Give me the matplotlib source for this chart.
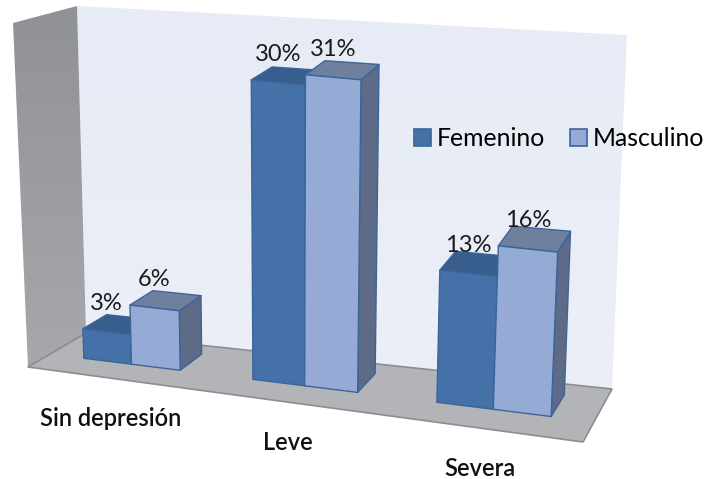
import numpy as np
import matplotlib
matplotlib.use('Agg')
import matplotlib.pyplot as plt
from matplotlib.colors import LinearSegmentedColormap
from matplotlib.patches import Polygon, Patch

categories = ['Sin depresión', 'Leve', 'Severa']
series_names = ['Femenino', 'Masculino']
femenino = [3, 30, 13]
masculino = [6, 31, 16]

FACE = {'Femenino': ('#4471A8', '#375E8C', '#34557E'),
        'Masculino': ('#95AAD4', '#6F809F', '#5D6B86')}
EDGE = '#3B659A'

# box of the 3-D chart in figure pixels: front-left, front-right, back-left, back-right
Z_MAX = 34.5
U_MIN, U_MAX = -0.5, 2.5
FLOOR = np.array([[28, 367], [583, 442], [86, 333], [612, 389]], dtype=float)
CEIL = np.array([[13, 23], [600, 85], [77, 6], [627, 35]], dtype=float)
WARP = 0.88
BAR_W = 0.29
D_FRONT, D_BACK = 0.38, 0.80


def project(u, d, z):
    t = (u - U_MIN) / (U_MAX - U_MIN)
    s = WARP * t / (1 + (WARP - 1) * t)

    def mix(c):
        front = c[0] + s * (c[1] - c[0])
        back = c[2] + s * (c[3] - c[2])
        return front + d * (back - front)

    h = z / Z_MAX
    return mix(FLOOR) * (1 - h) + mix(CEIL) * h


def face(ax, pts, fc, ec='none', lw=0.0, z=1):
    poly = Polygon([project(*p) for p in pts], closed=True, fc=fc, ec=ec, lw=lw, zorder=z,
                   joinstyle='round')
    ax.add_patch(poly)
    return poly


def gradient_face(ax, pts, c_top, c_bottom, z=1):
    poly = face(ax, pts, 'none', z=z)
    xy = poly.get_xy()
    x0, x1 = xy[:, 0].min(), xy[:, 0].max()
    y0, y1 = xy[:, 1].min(), xy[:, 1].max()
    cmap = LinearSegmentedColormap.from_list('g', [c_top, c_bottom])
    im = ax.imshow(np.linspace(0, 1, 256).reshape(-1, 1), cmap=cmap, aspect='auto',
                   extent=(x0, x1, y1, y0), zorder=z)
    im.set_clip_path(poly)


fig = plt.figure(figsize=(7.07, 4.79), dpi=100)
ax = fig.add_axes([0, 0, 1, 1])
ax.set_xlim(0, 707)
ax.set_ylim(479, 0)
ax.axis('off')

# walls and floor
gradient_face(ax, [(U_MIN, 1, 0), (U_MAX, 1, 0), (U_MAX, 1, Z_MAX), (U_MIN, 1, Z_MAX)],
              '#E7EBF5', '#ECEFF7')
gradient_face(ax, [(U_MIN, 0, 0), (U_MIN, 1, 0), (U_MIN, 1, Z_MAX), (U_MIN, 0, Z_MAX)],
              '#909295', '#A6A8AB')
face(ax, [(U_MIN, 0, 0), (U_MAX, 0, 0), (U_MAX, 1, 0), (U_MIN, 1, 0)], '#B3B4B7',
     ec='#8C8D90', lw=1.2, z=2)

# bars
for i, cat in enumerate(categories):
    for j, (name, vals) in enumerate(zip(series_names, [femenino, masculino])):
        v = vals[i]
        u0 = i - BAR_W + j * BAR_W
        u1 = u0 + BAR_W
        front, top, side = FACE[name]
        zo = 3 + i * 2 + j
        face(ax, [(u1, D_FRONT, 0), (u1, D_BACK, 0), (u1, D_BACK, v), (u1, D_FRONT, v)],
             side, ec=EDGE, lw=1.0, z=zo)
        face(ax, [(u0, D_FRONT, v), (u1, D_FRONT, v), (u1, D_BACK, v), (u0, D_BACK, v)],
             top, ec=EDGE, lw=1.0, z=zo)
        face(ax, [(u0, D_FRONT, 0), (u1, D_FRONT, 0), (u1, D_FRONT, v), (u0, D_FRONT, v)],
             front, ec=EDGE, lw=1.0, z=zo)
        lx, ly = project((u0 + u1) / 2, D_FRONT, v)
        ax.text(lx, ly - 28, f'{v}%', ha='center', va='center', fontsize=17,
                family='Lato', color='#1a1a1a', zorder=20)
    cx, cy = project(i, 0, 0)
    ax.text(cx, cy + 40, cat, ha='center', va='center', fontsize=17, family='Lato',
            fontweight='semibold', color='#111111', zorder=20)

handles = [Patch(fc=FACE[n][0], ec=EDGE, lw=1.2) for n in series_names]
ax.legend(handles, series_names, ncol=2, loc='center left',
          bbox_to_anchor=(414 / 707, 1 - 139 / 479), frameon=False,
          prop={'family': 'Lato', 'size': 17.8}, handlelength=0.68, handleheight=0.68,
          handletextpad=0.25, columnspacing=1.0, borderaxespad=0, borderpad=0)

fig.savefig('out.png', dpi=100)
